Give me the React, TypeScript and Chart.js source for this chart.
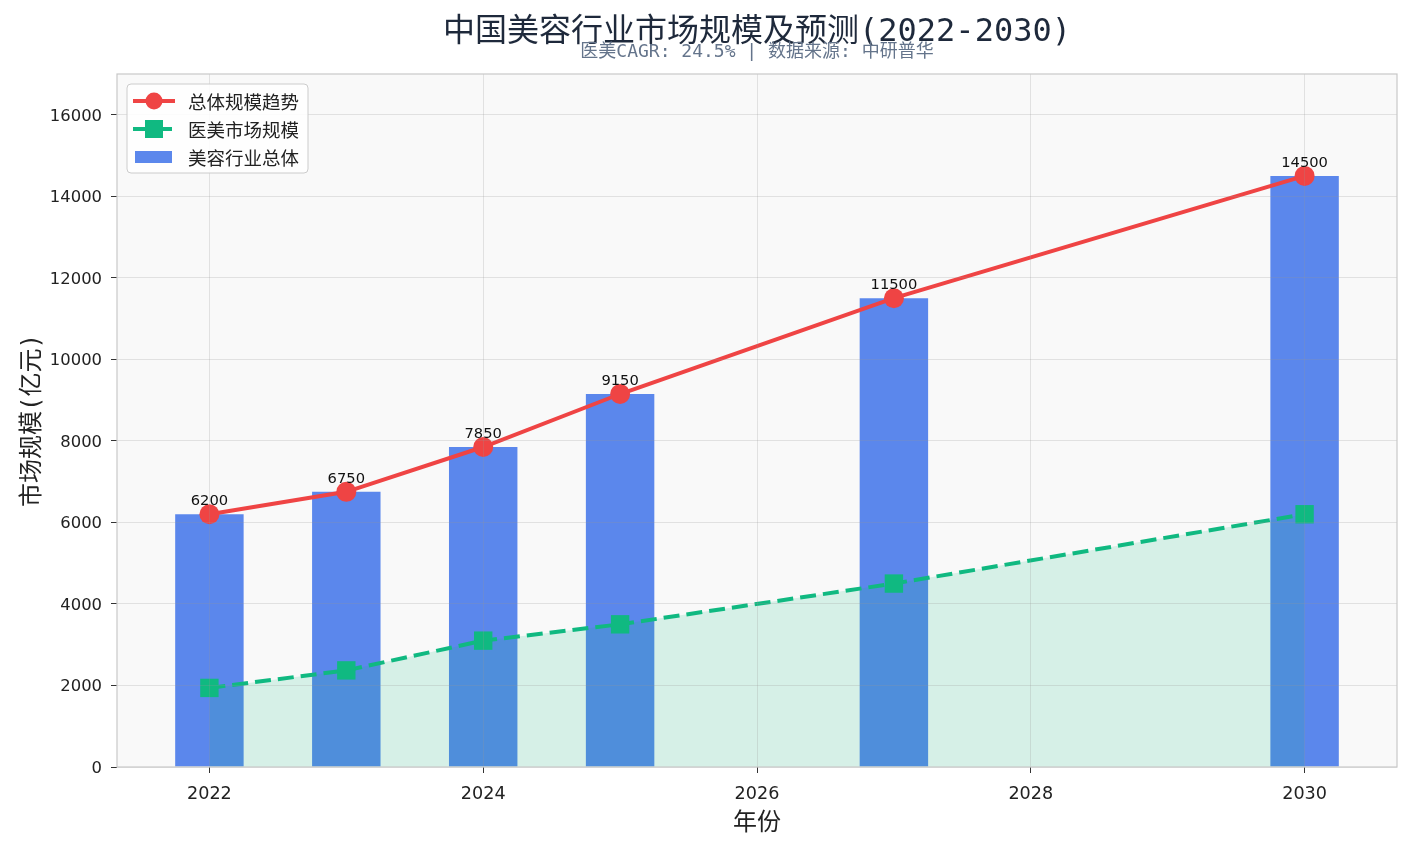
import React, { useEffect, useRef } from 'react';
import { Chart, registerables } from 'chart.js';

Chart.register(...registerables);

// ---- data ----
const years = [2022, 2023, 2024, 2025, 2027, 2030];
const totalMarket = [6200, 6750, 7850, 9150, 11500, 14500];
const medicalMarket = [1940, 2370, 3100, 3500, 4500, 6200];
const xTickYears = [2022, 2024, 2026, 2028, 2030];
const yTickValues = [0, 2000, 4000, 6000, 8000, 10000, 12000, 14000, 16000];
const titleText = '中国美容行业市场规模及预测(2022-2030)';
const subtitleText = '医美CAGR: 24.5% | 数据来源: 中研普华';
const legendLabels = ['总体规模趋势', '医美市场规模', '美容行业总体'];
const yAxisLabel = '市场规模(亿元)';
const xAxisLabel = '年份';

// ---- styles ----
const RED = '#EF4444';
const GREEN = '#10B981';
const BLUE = 'rgb(91,135,236)';
const FILL_GREEN = 'rgba(16,185,129,0.15)';
const GRID = 'rgba(150,150,150,0.24)';
const CJK = '"DejaVu Sans Mono", "Noto Sans CJK SC", sans-serif';
const CJK_PLAIN = '"Noto Sans CJK SC", sans-serif';
const NUM = '"DejaVu Sans", sans-serif';

const decorPlugin = {
  id: 'decor',
  beforeDraw(chart: any) {
    const { ctx, chartArea: a } = chart;
    ctx.save();
    ctx.fillStyle = '#ffffff';
    ctx.fillRect(0, 0, chart.width, chart.height);
    ctx.fillStyle = '#F9F9F9';
    ctx.fillRect(a.left, a.top, a.right - a.left, a.bottom - a.top);
    ctx.restore();
  },
  afterDraw(chart: any) {
    const { ctx, chartArea: a } = chart;
    ctx.save();
    // plot frame
    ctx.strokeStyle = '#c8c8c8';
    ctx.lineWidth = 1.2;
    ctx.strokeRect(a.left, a.top, a.right - a.left, a.bottom - a.top);

    // value labels on bars
    const meta = chart.getDatasetMeta(0);
    ctx.fillStyle = '#111';
    ctx.font = `14.7px ${NUM}`;
    ctx.textAlign = 'center';
    ctx.textBaseline = 'alphabetic';
    meta.data.forEach((el: any, i: number) => {
      ctx.fillText(String(totalMarket[i]), el.x, el.y - 9);
    });

    // legend
    const lx = a.left + 10;
    const ly = a.top + 10;
    const lw = 181;
    const lh = 89;
    ctx.beginPath();
    (ctx as any).roundRect(lx, ly, lw, lh, 4);
    ctx.fillStyle = 'rgba(255,255,255,0.85)';
    ctx.fill();
    ctx.strokeStyle = '#cccccc';
    ctx.lineWidth = 1;
    ctx.stroke();
    const rows = [ly + 17, ly + 45, ly + 73];
    const hx0 = lx + 6;
    const hx1 = lx + 48;
    const hxm = (hx0 + hx1) / 2;
    // red line + circle
    ctx.strokeStyle = RED;
    ctx.lineWidth = 4;
    ctx.beginPath();
    ctx.moveTo(hx0, rows[0]);
    ctx.lineTo(hx1, rows[0]);
    ctx.stroke();
    ctx.fillStyle = RED;
    ctx.beginPath();
    ctx.arc(hxm, rows[0], 8.5, 0, Math.PI * 2);
    ctx.fill();
    // green dashed + square
    ctx.strokeStyle = GREEN;
    ctx.setLineDash([16, 7]);
    ctx.beginPath();
    ctx.moveTo(hx0, rows[1]);
    ctx.lineTo(hx1, rows[1]);
    ctx.stroke();
    ctx.setLineDash([]);
    ctx.fillStyle = GREEN;
    ctx.fillRect(hxm - 9, rows[1] - 9, 18, 18);
    // blue rect
    ctx.fillStyle = BLUE;
    ctx.fillRect(hx0 + 2, rows[2] - 6, 37, 12);
    // labels
    ctx.fillStyle = '#222';
    ctx.font = `18.5px ${CJK_PLAIN}`;
    ctx.textAlign = 'left';
    ctx.textBaseline = 'middle';
    legendLabels.forEach((t, i) => ctx.fillText(t, lx + 61, rows[i] + 1));

    // title + subtitle
    const cx = (a.left + a.right) / 2;
    ctx.textAlign = 'center';
    ctx.textBaseline = 'middle';
    ctx.fillStyle = '#1E293B';
    ctx.font = `32px ${CJK}`;
    ctx.fillText(titleText, cx, 33);
    ctx.fillStyle = '#64748B';
    ctx.font = `18px ${CJK}`;
    ctx.fillText(subtitleText, cx, 52);
    ctx.restore();
  },
};

export default function App() {
  const ref = useRef<HTMLCanvasElement | null>(null);

  useEffect(() => {
    document.body.style.margin = '0';
    const canvas = ref.current;
    if (!canvas) return;
    const chart = new Chart(canvas, {
      type: 'bar',
      data: {
        datasets: [
          {
            type: 'bar',
            label: legendLabels[2],
            data: years.map((x, i) => ({ x, y: totalMarket[i] })),
            backgroundColor: BLUE,
            borderWidth: 0,
            barPercentage: 0.5,
            categoryPercentage: 1.0,
            order: 3,
          },
          {
            type: 'line',
            label: legendLabels[1],
            data: years.map((x, i) => ({ x, y: medicalMarket[i] })),
            borderColor: GREEN,
            backgroundColor: FILL_GREEN,
            borderWidth: 4,
            borderDash: [16, 7],
            fill: 'origin',
            tension: 0,
            pointStyle: 'rect',
            pointRadius: 13,
            pointBackgroundColor: GREEN,
            pointBorderColor: GREEN,
            pointBorderWidth: 0,
            order: 2,
          },
          {
            type: 'line',
            label: legendLabels[0],
            data: years.map((x, i) => ({ x, y: totalMarket[i] })),
            borderColor: RED,
            backgroundColor: RED,
            borderWidth: 4,
            fill: false,
            tension: 0,
            pointStyle: 'circle',
            pointRadius: 10,
            pointBackgroundColor: RED,
            pointBorderColor: RED,
            pointBorderWidth: 0,
            order: 1,
          },
        ],
      } as any,
      options: {
        animation: false,
        responsive: false,
        devicePixelRatio: 1,
        layout: { padding: { top: 74, right: 14, bottom: 0, left: 0 } },
        plugins: {
          legend: { display: false },
          tooltip: { enabled: false },
          title: { display: false },
        },
        scales: {
          x: {
            type: 'linear',
            min: 2021.325,
            max: 2030.675,
            offset: false,
            afterBuildTicks: (s: any) => {
              s.ticks = xTickYears.map((v) => ({ value: v }));
            },
            afterFit: (s: any) => {
              s.height = 84;
            },
            grid: { color: GRID, z: 1, offset: false, tickLength: 6, tickColor: '#333', lineWidth: 1 },
            border: { display: false },
            ticks: {
              callback: (v: any) => String(v),
              font: { family: NUM, size: 17.6 },
              color: '#222',
              padding: 11,
              maxRotation: 0,
              autoSkip: false,
            },
            title: {
              display: true,
              text: xAxisLabel,
              font: { family: CJK, size: 24 },
              color: '#222',
              padding: { top: 0, bottom: 13 },
            },
          },
          y: {
            type: 'linear',
            min: 0,
            max: 17000,
            afterBuildTicks: (s: any) => {
              s.ticks = yTickValues.map((v) => ({ value: v }));
            },
            afterFit: (s: any) => {
              s.width = 117;
            },
            grid: { color: GRID, z: 1, tickLength: 6, tickColor: '#333', lineWidth: 1 },
            border: { display: false },
            ticks: {
              callback: (v: any) => String(v),
              font: { family: NUM, size: 16.4 },
              color: '#222',
              padding: 9,
              labelOffset: 1.5,
            },
            title: {
              display: true,
              text: yAxisLabel,
              font: { family: CJK, size: 24 },
              color: '#222',
              padding: { top: 18, bottom: 0 },
            },
          },
        },
      } as any,
      plugins: [decorPlugin],
    });
    return () => chart.destroy();
  }, []);

  return (
    <div style={{ width: 1411, height: 851 }}>
      <canvas ref={ref} width={1411} height={851} style={{ display: 'block', width: 1411, height: 851 }} />
    </div>
  );
}
